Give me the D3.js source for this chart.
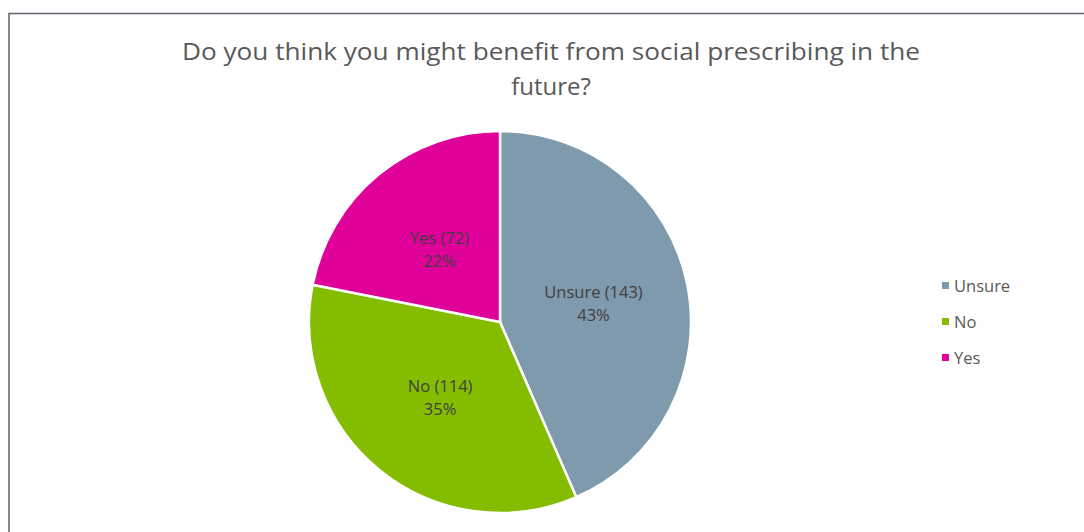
<!DOCTYPE html>
<html>
<head>
<meta charset="utf-8">
<script src="https://cdn.jsdelivr.net/npm/d3@7"></script>
<style>
  body { margin: 0; background: #fff; }
  svg { display: block; font-family: "Open Sans", "Noto Sans", sans-serif; }
</style>
</head>
<body>
<svg id="chart" width="1084" height="532"></svg>
<script>
'use strict';

const categories = ['Unsure', 'No', 'Yes']
const counts = [143, 114, 72]
const percents = ['43%', '35%', '22%']
const colors = ['#7f9aad', '#84bd00', '#e0009a']
const titleLines = ['Do you think you might benefit from social prescribing in the', 'future?']

const width = 1084, height = 532
const cx = 500, cy = 322, radius = 191

const svg = d3.select('#chart')

// frame (only top and left edges visible in the crop)
svg.append('path')
    .attr('d', `M9,${height} L9,13.5 L${width},13.5`)
    .attr('fill', 'none')
    .attr('stroke', '#5c626b')
    .attr('stroke-width', 1.5)

// title
svg.append('g')
    .selectAll('text')
    .data(titleLines)
    .join('text')
    .attr('x', 551)
    .attr('y', (d, i) => 60 + i * 35)
    .attr('text-anchor', 'middle')
    .attr('font-size', 24)
    .attr('fill', '#595959')
    .attr('textLength', (d, i) => i === 0 ? 738 : null)
    .attr('lengthAdjust', 'spacingAndGlyphs')
    .text(d => d)

const data = categories.map((c, i) => ({ name: c, value: counts[i], pct: percents[i], color: colors[i] }))

const pie = d3.pie()
    .value(d => d.value)
    .sort(null)

const arc = d3.arc()
    .innerRadius(0)
    .outerRadius(radius)

const labelArc = d3.arc()
    .innerRadius(radius * 0.5)
    .outerRadius(radius * 0.5)

const arcs = pie(data)

const g = svg.append('g')
    .attr('transform', `translate(${cx}, ${cy})`)

g.selectAll('path')
    .data(arcs)
    .join('path')
    .attr('d', arc)
    .attr('fill', d => d.data.color)
    .attr('stroke', '#fff')
    .attr('stroke-width', 2.5)

const labels = g.selectAll('text.lbl')
    .data(arcs)
    .join('text')
    .attr('class', 'lbl')
    .attr('transform', d => `translate(${labelArc.centroid(d)})`)
    .attr('text-anchor', 'middle')
    .attr('font-size', 16.5)
    .attr('fill', '#404040')

labels.append('tspan')
    .attr('x', 0)
    .attr('dy', '-0.25em')
    .text(d => `${d.data.name} (${d.data.value})`)
labels.append('tspan')
    .attr('x', 0)
    .attr('dy', '1.4em')
    .text(d => d.data.pct)

// legend
const legend = svg.append('g')
    .attr('transform', 'translate(942, 286)')

const items = legend.selectAll('g')
    .data(data)
    .join('g')
    .attr('transform', (d, i) => `translate(0, ${i * 36})`)

items.append('rect')
    .attr('x', 0)
    .attr('y', -4)
    .attr('width', 7)
    .attr('height', 7)
    .attr('fill', d => d.color)

items.append('text')
    .attr('x', 12)
    .attr('y', 0)
    .attr('dy', '0.35em')
    .attr('font-size', 16.5)
    .attr('fill', '#595959')
    .text(d => d.name)
</script>
</body>
</html>
